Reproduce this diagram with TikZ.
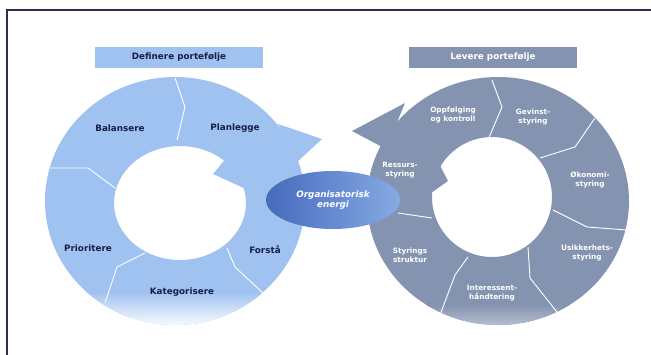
\documentclass[tikz,border=0pt]{standalone}
\usepackage{fontspec}
\setmainfont{DejaVu Sans}
\usetikzlibrary{shapes.geometric}
\definecolor{lysblaa}{RGB}{160,194,240}
\definecolor{graablaa}{RGB}{132,148,176}
\definecolor{marine}{RGB}{22,32,72}
\definecolor{ramme}{RGB}{40,50,80}
\definecolor{energimork}{RGB}{70,106,188}
\definecolor{energilys}{RGB}{135,170,228}

\begin{document}
\begin{tikzpicture}[x=1pt,y=-1pt,
  venstretxt/.style={text=marine,font=\fontsize{8.8}{10}\selectfont\bfseries,align=center},
  hoyretxt/.style={text=white,font=\fontsize{7.3}{8.6}\selectfont\bfseries,align=center},
  tittel/.style={minimum width=168pt,minimum height=21pt,inner sep=0pt,font=\fontsize{8.8}{10}\selectfont\bfseries},
  skille/.style={draw=white,line width=0.9pt},
  energi/.style={ellipse,minimum width=134pt,minimum height=58pt,inner sep=0pt,
    left color=energimork,right color=energilys,text=white,align=center,
    font=\fontsize{8.8}{10}\selectfont\bfseries\itshape}]
\useasboundingbox (0,0) rectangle (651,354);
\clip (0,0) rectangle (651,354);
%================================================================
%	Frame
\draw[color=ramme,line width=1.8pt] (7,10) rectangle (665,370);
%================================================================
%	Left ring
\fill[lysblaa,even odd rule] (175,201) ellipse [x radius=130pt,y radius=124pt]
  (180,203) ellipse [x radius=66pt,y radius=57pt];
\fill[lysblaa] (278,124) -- (322,139) -- (296,163) -- cycle;
\fill[lysblaa] (233,150) -- (213,174) -- (248,190) -- cycle;
\begin{scope}
  \clip (175,201) ellipse [x radius=130pt,y radius=124pt];
  \shade[top color=lysblaa,bottom color=white] (40,292) rectangle (310,328);
\end{scope}
%----------------------------------------------------------------
\draw[skille] (175,78) -- (185,107) -- (177,140);
\draw[skille] (50,168) -- (88,168) -- (115,188);
\draw[skille] (145,253) -- (117,267) -- (105,303);
\draw[skille] (227,248) -- (235,267) -- (265,295);
%================================================================
%	Right ring
\fill[graablaa,even odd rule] (498,201) ellipse [x radius=131pt,y radius=124pt]
  (492,197) ellipse [x radius=60pt,y radius=60pt];
\fill[graablaa] (405,103) -- (352,131) -- (386,149) -- cycle;
\fill[graablaa] (432,150) -- (448,181) -- (431,193) -- cycle;
\begin{scope}
  \clip (498,201) ellipse [x radius=131pt,y radius=124pt];
  \shade[top color=graablaa,bottom color=graablaa!55!white] (360,305) rectangle (640,328);
\end{scope}
%----------------------------------------------------------------
\draw[skille] (492,80) -- (502,107) -- (488,140);
\draw[skille] (595,118) -- (575,147) -- (540,158);
\draw[skille] (553,210) -- (587,227) -- (627,230);
\draw[skille] (528,247) -- (530,278) -- (557,312);
\draw[skille] (468,257) -- (455,275) -- (440,315);
\draw[skille] (398,213) -- (432,218);
%================================================================
%	Titles
\node[tittel,fill=lysblaa,text=marine] (definere) at (179,57.5) {Definere portefølje};
\node[tittel,fill=graablaa,text=white] (levere) at (493,57.5) {Levere portefølje};
%================================================================
%	Labels
\node[venstretxt] (balansere) at (120,128) {Balansere};
\node[venstretxt] (planlegge) at (235,128) {Planlegge};
\node[venstretxt] (prioritere) at (88,248) {Prioritere};
\node[venstretxt] (forstaa) at (265,250) {Forstå};
\node[venstretxt] (kategorisere) at (182,292) {Kategorisere};
%----------------------------------------------------------------
\node[hoyretxt] (oppfolging) at (453,115) {Oppfølging\\og kontroll};
\node[hoyretxt] (gevinst) at (533,117) {Gevinst-\\styring};
\node[hoyretxt] (okonomi) at (590,180) {Økonomi-\\styring};
\node[hoyretxt] (usikkerhet) at (587,253) {Usikkerhets-\\styring};
\node[hoyretxt] (interessent) at (492,293) {Interessent-\\håndtering};
\node[hoyretxt] (struktur) at (410,255) {Styrings\\struktur};
\node[hoyretxt] (ressurs) at (400,170) {Ressurs-\\styring};
%================================================================
%	Centre
\node[energi] (org) at (333,200) {Organisatorisk\\energi};
%================================================================
\end{tikzpicture}
\end{document}
